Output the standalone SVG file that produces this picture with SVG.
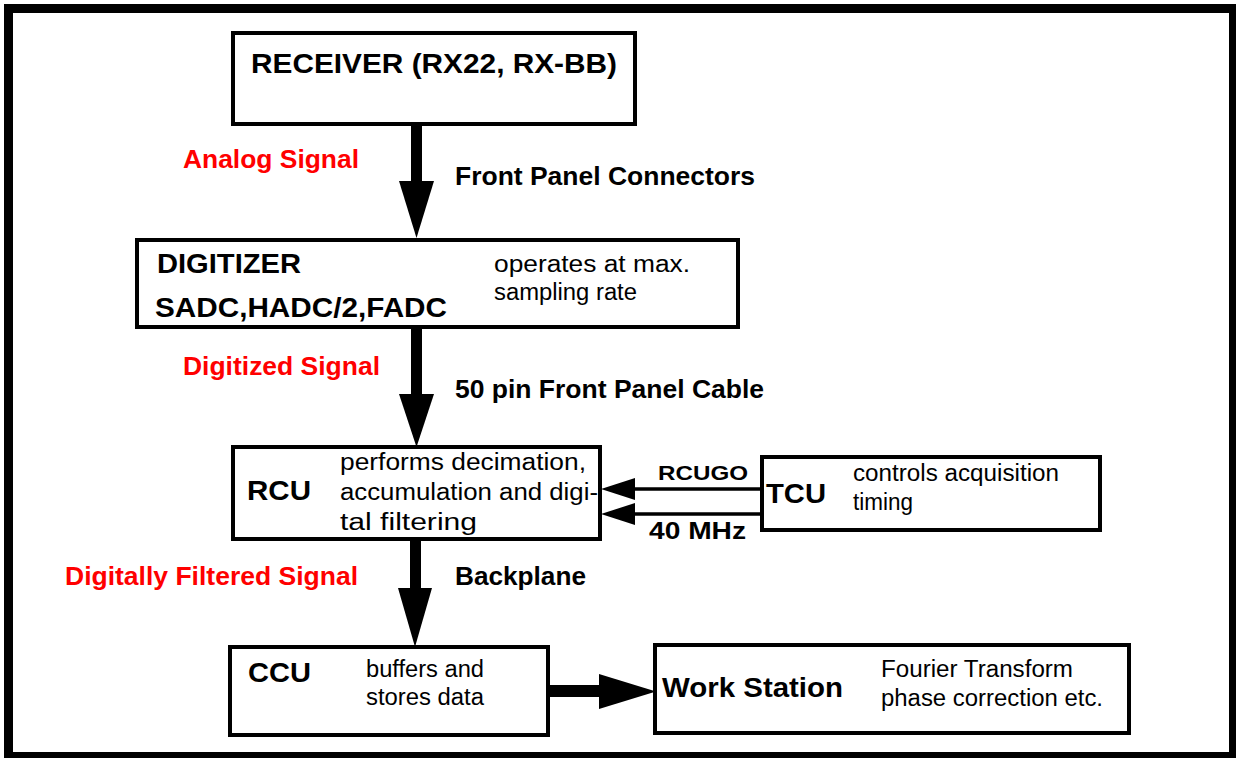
<svg xmlns="http://www.w3.org/2000/svg" width="1236" height="758" viewBox="0 0 1236 758">
<style>
.box{fill:#fff;stroke:#000;stroke-width:4}
.t{font-family:"Liberation Sans",Arial,sans-serif;fill:#000}
.title{font-weight:bold;font-size:28px}
.lab{font-weight:bold;font-size:25px}
.red{fill:#ff0000}
.reg{font-size:23px}
.sig{font-weight:bold}
</style>
<rect width="1236" height="758" fill="#fff"/>
<rect x="8.5" y="8.5" width="1225" height="748" fill="none" stroke="#000" stroke-width="9"/>

<g id="connectors">
  <rect x="411" y="124" width="11" height="58"/>
  <polygon points="399,181 434,181 416.5,238"/>
  <rect x="411" y="327" width="11" height="68"/>
  <polygon points="399,394 434,394 416.5,447"/>
  <rect x="410" y="539" width="11" height="50"/>
  <polygon points="398,588 432,588 415,647"/>
  <rect x="548" y="685" width="52" height="12"/>
  <polygon points="599,674 599,709 656,691.5"/>
  <line x1="763" y1="489" x2="634" y2="489" stroke="#000" stroke-width="3.5"/>
  <polygon points="635,478 635,500 601,489"/>
  <line x1="763" y1="514" x2="634" y2="514" stroke="#000" stroke-width="3.5"/>
  <polygon points="635,503 635,525 601,514"/>
  <text class="t sig" x="658" y="480" font-size="21" textLength="90" lengthAdjust="spacingAndGlyphs">RCUGO</text>
  <text class="t sig" x="649" y="539" font-size="24" textLength="97" lengthAdjust="spacingAndGlyphs">40 MHz</text>
  <text class="t lab red" x="183" y="168" textLength="176" lengthAdjust="spacingAndGlyphs">Analog Signal</text>
  <text class="t lab" x="455" y="185" textLength="300" lengthAdjust="spacingAndGlyphs">Front Panel Connectors</text>
  <text class="t lab red" x="183" y="375" textLength="197" lengthAdjust="spacingAndGlyphs">Digitized Signal</text>
  <text class="t lab" x="455" y="398" textLength="309" lengthAdjust="spacingAndGlyphs">50 pin Front Panel Cable</text>
  <text class="t lab red" x="65" y="585" textLength="293" lengthAdjust="spacingAndGlyphs">Digitally Filtered Signal</text>
  <text class="t lab" x="455" y="585" textLength="131" lengthAdjust="spacingAndGlyphs">Backplane</text>
</g>

<g id="receiver">
  <rect class="box" x="233" y="33" width="402" height="91"/>
  <text class="t title" x="251" y="73" font-size="29" textLength="366" lengthAdjust="spacingAndGlyphs">RECEIVER (RX22, RX-BB)</text>
</g>

<g id="digitizer">
  <rect class="box" x="137" y="240" width="601" height="87"/>
  <text class="t title" x="157" y="273" textLength="144" lengthAdjust="spacingAndGlyphs">DIGITIZER</text>
  <text class="t title" x="155" y="317" textLength="292" lengthAdjust="spacingAndGlyphs">SADC,HADC/2,FADC</text>
  <text class="t reg" x="494" y="272" textLength="196" lengthAdjust="spacingAndGlyphs">operates at max.</text>
  <text class="t reg" x="494" y="300" textLength="143" lengthAdjust="spacingAndGlyphs">sampling rate</text>
</g>

<g id="rcu">
  <rect class="box" x="233" y="447" width="367" height="92"/>
  <text class="t title" x="247" y="500" textLength="64" lengthAdjust="spacingAndGlyphs">RCU</text>
  <text class="t reg" x="340" y="470" textLength="246" lengthAdjust="spacingAndGlyphs">performs decimation,</text>
  <text class="t reg" x="340" y="500" textLength="258" lengthAdjust="spacingAndGlyphs">accumulation and digi-</text>
  <text class="t reg" x="340" y="530" textLength="137" lengthAdjust="spacingAndGlyphs">tal filtering</text>
</g>

<g id="tcu">
  <rect class="box" x="762" y="457" width="338" height="73"/>
  <text class="t title" x="766" y="503" textLength="60" lengthAdjust="spacingAndGlyphs">TCU</text>
  <text class="t reg" x="853" y="481" textLength="206" lengthAdjust="spacingAndGlyphs">controls acquisition</text>
  <text class="t reg" x="853" y="510" textLength="60" lengthAdjust="spacingAndGlyphs">timing</text>
</g>

<g id="ccu">
  <rect class="box" x="230" y="647" width="318" height="88"/>
  <text class="t title" x="248" y="682" textLength="63" lengthAdjust="spacingAndGlyphs">CCU</text>
  <text class="t reg" x="366" y="677" textLength="118" lengthAdjust="spacingAndGlyphs">buffers and</text>
  <text class="t reg" x="366" y="705" textLength="118" lengthAdjust="spacingAndGlyphs">stores data</text>
</g>

<g id="workstation">
  <rect class="box" x="655" y="645" width="474" height="88"/>
  <text class="t title" x="662" y="697" textLength="181" lengthAdjust="spacingAndGlyphs">Work Station</text>
  <text class="t reg" x="881" y="677" textLength="192" lengthAdjust="spacingAndGlyphs">Fourier Transform</text>
  <text class="t reg" x="881" y="706" textLength="222" lengthAdjust="spacingAndGlyphs">phase correction etc.</text>
</g>
</svg>
